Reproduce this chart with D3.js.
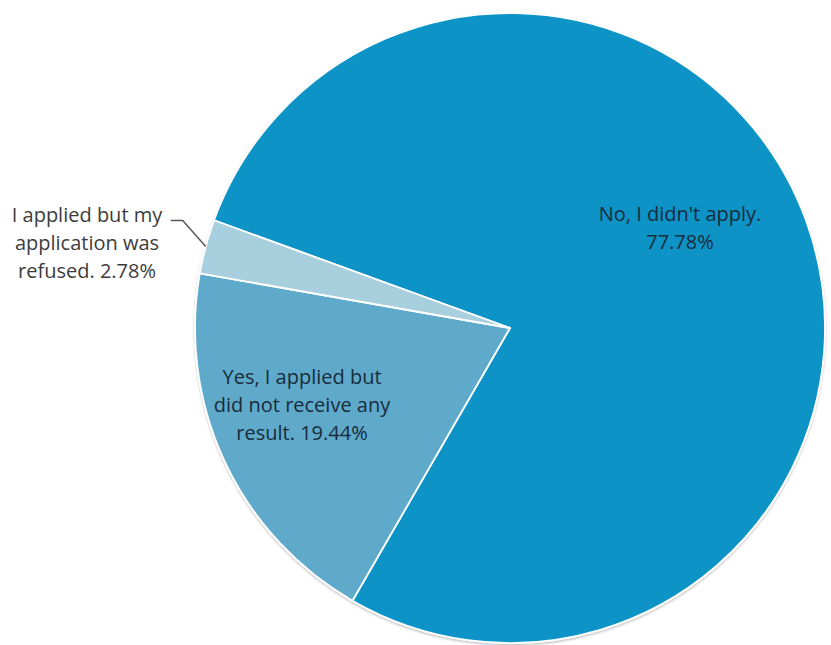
<!DOCTYPE html>
<html>
<head>
<meta charset="utf-8">
<script src="https://cdn.jsdelivr.net/npm/d3@7"></script>
<style>
  html, body { margin: 0; padding: 0; background: #ffffff; }
  svg { display: block; }
  text { font-family: "Open Sans", Lato, sans-serif; }
</style>
</head>
<body>
<svg id="chart" width="831" height="645"></svg>
<script>
// Survey answers and their shares (percent)
const categories = [
  "No, I didn't apply.",
  "Yes, I applied but did not receive any result.",
  "I applied but my application was refused."
];
const shares = [77.78, 19.44, 2.78];
const sliceColors = ["#0a93c6", "#5faaca", "#a8cfdd"];

// Label lines as they wrap on the chart
const labelLines = [
  ["No, I didn't apply.", "77.78%"],
  ["Yes, I applied but", "did not receive any", "result. 19.44%"],
  ["I applied but my", "application was", "refused. 2.78%"]
];

const cx = 510, cy = 328, radius = 315;
const deg = Math.PI / 180;

const svg = d3.select("#chart");

const defs = svg.append("defs");
const shadow = defs.append("filter").attr("id", "pieShadow")
  .attr("x", "-10%").attr("y", "-10%").attr("width", "120%").attr("height", "120%");
shadow.append("feDropShadow")
  .attr("dx", 0).attr("dy", 1.5).attr("stdDeviation", 1.2)
  .attr("flood-color", "#000").attr("flood-opacity", 0.25);

const data = categories.map((c, i) => ({ category: c, value: shares[i], index: i }));

const pie = d3.pie()
  .sort(null)
  .value(d => d.value)
  .startAngle(-70 * deg)
  .endAngle(290 * deg);

const arc = d3.arc().innerRadius(0).outerRadius(radius);
const arcs = pie(data);

const g = svg.append("g").attr("transform", `translate(${cx},${cy})`);

g.append("g").attr("filter", "url(#pieShadow)")
  .selectAll("path")
  .data(arcs)
  .join("path")
  .attr("d", arc)
  .attr("fill", d => sliceColors[d.index])
  .attr("stroke", "#ffffff")
  .attr("stroke-width", 1.8)
  .attr("stroke-linejoin", "round");

// Label block centres, relative to the pie centre
const labelPlacement = [
  { dx: 170, dy: -100, color: "#182c3c" },
  { dx: -208, dy: 77, color: "#182c3c" },
  { dx: -423, dy: -85, color: "#3c3c3c" }
];
const lineHeight = 28;

labelLines.forEach((lines, i) => {
  const p = labelPlacement[i];
  const t = g.append("text")
    .attr("text-anchor", "middle")
    .attr("font-size", 20)
    .attr("fill", p.color);
  const y0 = p.dy - (lines.length - 1) * lineHeight / 2;
  lines.forEach((ln, k) => {
    t.append("tspan")
      .attr("x", p.dx)
      .attr("y", y0 + k * lineHeight)
      .attr("dy", "0.35em")
      .text(ln);
  });
});

// Leader line from the small slice's rim to its outside label
const small = arcs[2];
const midA = (small.startAngle + small.endAngle) / 2;
const edge = [Math.sin(midA) * radius, -Math.cos(midA) * radius];
g.append("polyline")
  .attr("points", [
    edge,
    [edge[0] - 23, edge[1] - 26],
    [edge[0] - 35, edge[1] - 26]
  ].map(p => p.join(",")).join(" "))
  .attr("fill", "none")
  .attr("stroke", "#595959")
  .attr("stroke-width", 1.5);
</script>
</body>
</html>
